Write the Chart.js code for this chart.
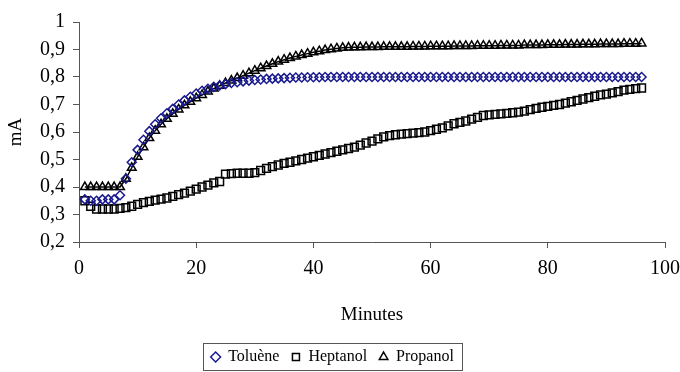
<!DOCTYPE html>
<html>
<head>
<meta charset="utf-8">
<script src="https://cdn.jsdelivr.net/npm/chart.js@4"></script>
<style>
  html, body { margin: 0; padding: 0; background: #fff; }
  #wrap { width: 680px; height: 372px; }
</style>
</head>
<body>
<div id="wrap"><canvas id="chart" width="680" height="372"></canvas></div>
<script>
// minutes (x)
const minutes = [1, 2, 3, 4, 5, 6, 7, 8, 9, 10, 11, 12, 13, 14, 15, 16, 17, 18, 19, 20,
  21, 22, 23, 24, 25, 26, 27, 28, 29, 30, 31, 32, 33, 34, 35, 36, 37, 38, 39, 40,
  41, 42, 43, 44, 45, 46, 47, 48, 49, 50, 51, 52, 53, 54, 55, 56, 57, 58, 59, 60,
  61, 62, 63, 64, 65, 66, 67, 68, 69, 70, 71, 72, 73, 74, 75, 76, 77, 78, 79, 80,
  81, 82, 83, 84, 85, 86, 87, 88, 89, 90, 91, 92, 93, 94, 95, 96];

const toluene = [0.355, 0.35, 0.35, 0.355, 0.355, 0.355, 0.37, 0.43, 0.49, 0.535,
  0.572, 0.603, 0.628, 0.65, 0.668, 0.684, 0.70, 0.715, 0.728, 0.74,
  0.75, 0.757, 0.764, 0.769, 0.774, 0.778, 0.781, 0.784, 0.787, 0.789,
  0.791, 0.793, 0.794, 0.795, 0.796, 0.797, 0.798, 0.798, 0.799, 0.799,
  0.799, 0.8, 0.8, 0.8, 0.8, 0.8, 0.8, 0.8, 0.8, 0.8,
  0.8, 0.8, 0.8, 0.8, 0.8, 0.8, 0.8, 0.8, 0.8, 0.8,
  0.8, 0.8, 0.8, 0.8, 0.8, 0.8, 0.8, 0.8, 0.8, 0.8,
  0.8, 0.8, 0.8, 0.8, 0.8, 0.8, 0.8, 0.8, 0.8, 0.8,
  0.8, 0.8, 0.8, 0.8, 0.8, 0.8, 0.8, 0.8, 0.8, 0.8,
  0.8, 0.8, 0.8, 0.8, 0.8, 0.8];

const heptanol = [0.35, 0.33, 0.32, 0.32, 0.32, 0.32, 0.322, 0.325, 0.33, 0.337,
  0.343, 0.348, 0.352, 0.356, 0.36, 0.366, 0.372, 0.378, 0.385, 0.392,
  0.40, 0.407, 0.415, 0.42, 0.447, 0.449, 0.45, 0.45, 0.45, 0.452,
  0.46, 0.468, 0.474, 0.48, 0.486, 0.49, 0.495, 0.50, 0.505, 0.51,
  0.515, 0.52, 0.525, 0.53, 0.535, 0.54, 0.545, 0.552, 0.56, 0.567,
  0.575, 0.582, 0.587, 0.59, 0.592, 0.594, 0.596, 0.598, 0.60, 0.605,
  0.61, 0.615, 0.622, 0.63, 0.635, 0.64, 0.647, 0.653, 0.66, 0.662,
  0.664, 0.666, 0.668, 0.67, 0.672, 0.676, 0.681, 0.686, 0.69, 0.693,
  0.697, 0.70, 0.705, 0.71, 0.715, 0.72, 0.725, 0.73, 0.735, 0.738,
  0.742, 0.747, 0.752, 0.755, 0.758, 0.76];

const propanol = [0.4, 0.4, 0.4, 0.4, 0.4, 0.4, 0.4, 0.43, 0.47, 0.51,
  0.545, 0.578, 0.605, 0.628, 0.648, 0.666, 0.682, 0.697, 0.71, 0.723,
  0.735, 0.747, 0.758, 0.768, 0.778, 0.787, 0.796, 0.805, 0.814, 0.823,
  0.832, 0.84, 0.848, 0.856, 0.863, 0.869, 0.875, 0.88, 0.885, 0.89,
  0.894, 0.898, 0.901, 0.904, 0.906, 0.907, 0.908, 0.908, 0.909, 0.909,
  0.909, 0.91, 0.91, 0.91, 0.91, 0.91, 0.911, 0.911, 0.911, 0.912,
  0.912, 0.912, 0.912, 0.913, 0.913, 0.913, 0.913, 0.914, 0.914, 0.914,
  0.914, 0.915, 0.915, 0.915, 0.915, 0.916, 0.916, 0.916, 0.916, 0.917,
  0.917, 0.917, 0.918, 0.918, 0.918, 0.919, 0.919, 0.919, 0.92, 0.92,
  0.92, 0.92, 0.921, 0.921, 0.921, 0.922];

const seriesNames = ['Toluène', 'Heptanol', 'Propanol'];
const xTicks = [0, 20, 40, 60, 80, 100];
const yTicks = [0.2, 0.3, 0.4, 0.5, 0.6, 0.7, 0.8, 0.9, 1];

const serif = '"Liberation Serif", "DejaVu Serif", serif';
const pts = (ys) => ys.map((y, i) => ({ x: minutes[i], y }));

// kader om de legenda
const legendBox = {
  id: 'legendBox',
  afterDraw(chart) {
    const boxes = chart.legend.legendHitBoxes;
    if (!boxes || !boxes.length) return;
    const l = Math.min(...boxes.map(b => b.left)) - 8;
    const r = Math.max(...boxes.map(b => b.left + b.width)) + 8;
    const t = Math.min(...boxes.map(b => b.top)) - 6;
    const btm = Math.max(...boxes.map(b => b.top + b.height)) + 5;
    const ctx = chart.ctx;
    ctx.save();
    ctx.strokeStyle = '#555';
    ctx.lineWidth = 1;
    ctx.strokeRect(Math.round(l) + 0.5, Math.round(t) + 0.5, Math.round(r - l), Math.round(btm - t));
    ctx.restore();
  }
};

new Chart(document.getElementById('chart'), {
  type: 'scatter',
  data: {
    datasets: [
      { label: seriesNames[0], data: pts(toluene), showLine: false,
        pointStyle: 'rectRot', pointRadius: 4.5, pointBorderWidth: 1.5,
        borderColor: '#1a1a8f', backgroundColor: 'rgba(0,0,0,0)', borderWidth: 1.5 },
      { label: seriesNames[1], data: pts(heptanol), showLine: false,
        pointStyle: 'rect', pointRadius: 5.5, pointBorderWidth: 1.5,
        borderColor: '#000', backgroundColor: 'rgba(0,0,0,0)', borderWidth: 1.5 },
      { label: seriesNames[2], data: pts(propanol), showLine: true,
        pointStyle: 'triangle', pointRadius: 5, pointBorderWidth: 1.5,
        borderColor: '#000', backgroundColor: 'rgba(0,0,0,0)', borderWidth: 1.5 },
    ]
  },
  options: {
    responsive: false,
    animation: false,
    devicePixelRatio: 1,
    layout: { autoPadding: false, padding: { top: 22, right: 15, left: 0, bottom: -3 } },
    plugins: {
      tooltip: { enabled: false },
      legend: {
        position: 'bottom',
        labels: {
          usePointStyle: true, boxHeight: 7, boxWidth: 9, padding: 12,
          color: '#000', font: { family: serif, size: 16 }
        }
      }
    },
    scales: {
      x: {
        type: 'linear', min: 0, max: 100,
        afterBuildTicks: (s) => { s.ticks = xTicks.map(v => ({ value: v })); },
        afterFit: (s) => { s.height = 95; s.paddingRight = 0; s.paddingLeft = 0; },
        grid: { drawOnChartArea: false, tickLength: 6, color: '#555' },
        border: { color: '#555' },
        ticks: { color: '#000', padding: 9, font: { family: serif, size: 20 } },
        title: { display: true, text: 'Minutes', color: '#000',
          font: { family: serif, size: 19 }, padding: { top: 0, bottom: 11 } }
      },
      y: {
        min: 0.2, max: 1,
        afterBuildTicks: (s) => { s.ticks = yTicks.map(v => ({ value: v })); },
        afterFit: (s) => { s.width = 79; },
        grid: { drawOnChartArea: false, tickLength: 6, color: '#555' },
        border: { color: '#555' },
        ticks: { color: '#000', padding: 8, font: { family: serif, size: 20 },
          callback: (v) => (v === 1 ? '1' : v.toFixed(1).replace('.', ',')) },
        title: { display: true, text: 'mA', color: '#000',
          font: { family: serif, size: 19 }, padding: { top: 5, bottom: 0 } }
      }
    }
  },
  plugins: [legendBox]
});
</script>
</body>
</html>
